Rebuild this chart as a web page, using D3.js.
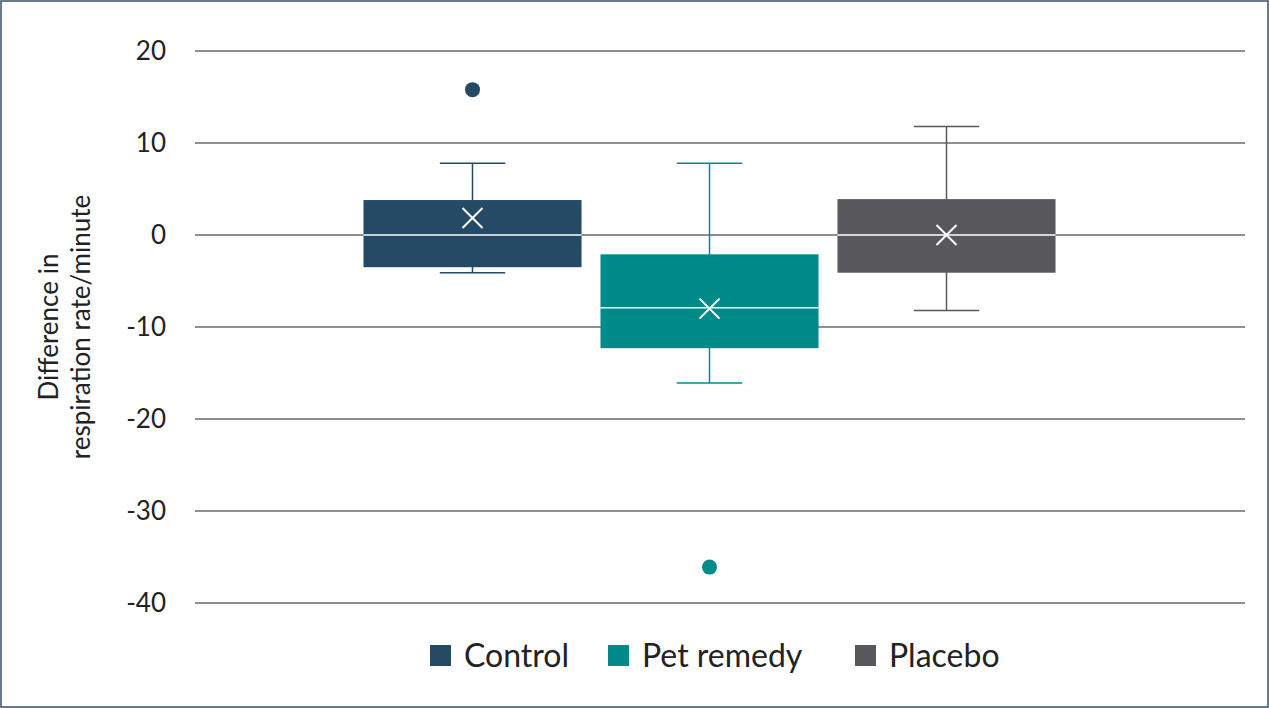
<!DOCTYPE html><html><head><meta charset="utf-8">
<script src="https://cdn.jsdelivr.net/npm/d3@7"></script>
<style>body{margin:0;background:#fff}text{font-family:Lato,sans-serif}</style></head><body>
<svg id="c" width="1269" height="708"></svg>
<script>
const categories=["Control","Pet remedy","Placebo"];
const colors=["#254a66","#008b8b","#58585c"];
const q1=[-3.5,-12.3,-4.1];
const q3=[3.8,-2.1,3.9];
const medians=[0,-7.9,0];
const means=[1.85,-8,0];
const whiskLow=[-4.1,-16.1,-8.2];
const whiskHigh=[7.8,7.8,11.8];
const outliers=[[15.8],[-36.1],[]];
const yTicks=[20,10,0,-10,-20,-30,-40];

const svg=d3.select("#c");
svg.append("rect").attr("x",1).attr("y",1).attr("width",1267).attr("height",706).attr("fill","#fff").attr("stroke","#3a4f66").attr("stroke-width",1.5);
const y=d3.scaleLinear().domain([-40,20]).range([603,51]);
const x=d3.scaleBand().domain(categories).range([354,1065]).paddingInner(0.08).paddingOuter(0.04);
const L=195,R=1245;
yTicks.forEach(t=>{
 svg.append("line").attr("x1",L).attr("x2",R).attr("y1",y(t)).attr("y2",y(t)).attr("stroke","#222").attr("stroke-width",1.2);
 svg.append("text").attr("x",166).attr("y",y(t)).attr("dy","0.35em").attr("text-anchor","end").attr("font-size",26).attr("fill","#222").text(t);
});
svg.append("text").attr("transform","translate(58,327) rotate(-90)").attr("text-anchor","middle").attr("font-size",26).attr("fill","#222").text("Difference in");
svg.append("text").attr("transform","translate(90,327) rotate(-90)").attr("text-anchor","middle").attr("font-size",26).attr("fill","#222").text("respiration rate/minute");
categories.forEach((c,i)=>{
 const bw=x.bandwidth(),x0=x(c),cx=x0+bw/2,col=colors[i],wh=bw*0.3;
 const g=svg.append("g");
 g.append("line").attr("x1",cx).attr("x2",cx).attr("y1",y(whiskHigh[i])).attr("y2",y(whiskLow[i])).attr("stroke",col).attr("stroke-width",1.5);
 [whiskHigh[i],whiskLow[i]].forEach(v=>g.append("line").attr("x1",cx-wh/2).attr("x2",cx+wh/2).attr("y1",y(v)).attr("y2",y(v)).attr("stroke",col).attr("stroke-width",1.5));
 g.append("rect").attr("x",x0).attr("width",bw).attr("y",y(q3[i])).attr("height",y(q1[i])-y(q3[i])).attr("fill",col);
 g.append("line").attr("x1",x0).attr("x2",x0+bw).attr("y1",y(medians[i])).attr("y2",y(medians[i])).attr("stroke","#fff").attr("stroke-width",1.5);
 const my=y(means[i]),s=10;
 g.append("path").attr("d",`M${cx-s},${my-s}L${cx+s},${my+s}M${cx-s},${my+s}L${cx+s},${my-s}`).attr("stroke","#fff").attr("stroke-width",2);
 outliers[i].forEach(v=>g.append("circle").attr("cx",cx).attr("cy",y(v)).attr("r",7.5).attr("fill",col));
});
const lx=[430,608,855];
categories.forEach((c,i)=>{
 svg.append("rect").attr("x",lx[i]).attr("y",645).attr("width",21).attr("height",21).attr("fill",colors[i]);
 svg.append("text").attr("x",lx[i]+34).attr("y",656).attr("dy","0.35em").attr("font-size",32).attr("fill","#222").text(c);
});
</script></body></html>
